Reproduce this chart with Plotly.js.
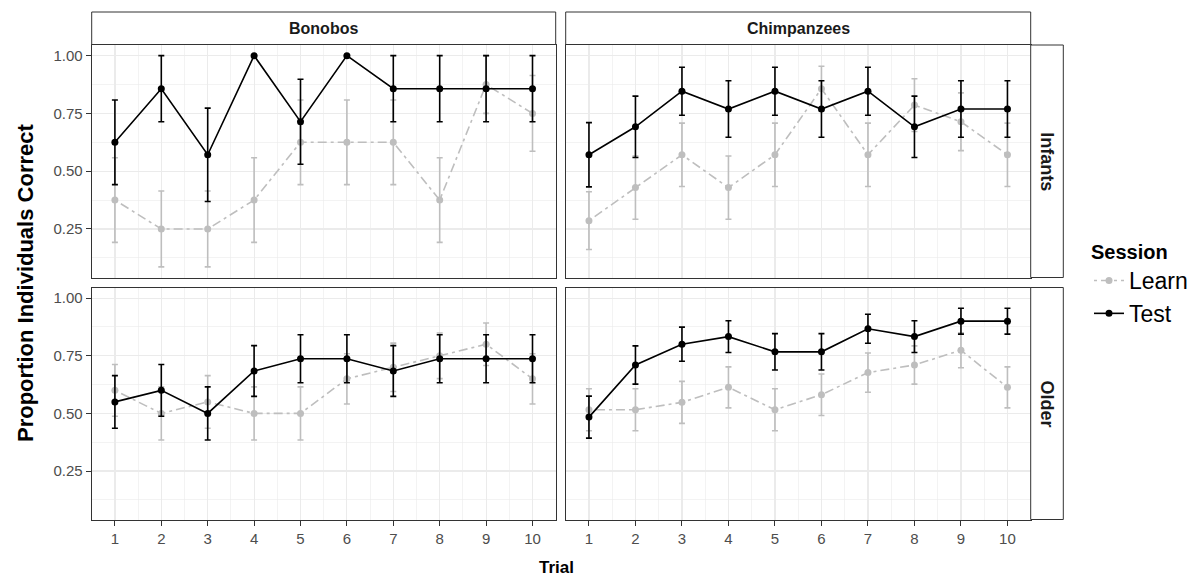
<!DOCTYPE html>
<html>
<head>
<meta charset="utf-8">
<script src="https://cdn.plot.ly/plotly-3.0.1.min.js"></script>
<style>html,body{margin:0;padding:0;background:#fff;}#chart{width:1198px;height:578px;}</style>
</head>
<body>
<div id="chart"></div>
<script>
// ---------- data ----------
const trials = [1, 2, 3, 4, 5, 6, 7, 8, 9, 10];
const species = ["Bonobos", "Chimpanzees"];
const ageGroups = ["Infants", "Older"];
const sessions = ["Learn", "Test"];
const yTickVals = [0.25, 0.50, 0.75, 1.00];
const yTickText = ["0.25", "0.50", "0.75", "1.00"];

// Bonobos – Infants
const bonInfLearn   = [0.375, 0.250, 0.250, 0.375, 0.625, 0.625, 0.625, 0.375, 0.875, 0.750];
const bonInfLearnSE = [0.183, 0.164, 0.164, 0.183, 0.183, 0.183, 0.183, 0.183, 0.125, 0.164];
const bonInfTest    = [0.625, 0.857, 0.571, 1.000, 0.714, 1.000, 0.857, 0.857, 0.857, 0.857];
const bonInfTestSE  = [0.183, 0.143, 0.202, 0.000, 0.184, 0.000, 0.143, 0.143, 0.143, 0.143];
// Chimpanzees – Infants
const chiInfLearn   = [0.286, 0.429, 0.571, 0.429, 0.571, 0.857, 0.571, 0.786, 0.714, 0.571];
const chiInfLearnSE = [0.125, 0.137, 0.137, 0.137, 0.137, 0.097, 0.137, 0.114, 0.125, 0.137];
const chiInfTest    = [0.571, 0.692, 0.846, 0.769, 0.846, 0.769, 0.846, 0.692, 0.769, 0.769];
const chiInfTestSE  = [0.139, 0.133, 0.104, 0.122, 0.104, 0.122, 0.104, 0.133, 0.122, 0.122];
// Bonobos – Older
const bonOldLearn   = [0.600, 0.500, 0.550, 0.500, 0.500, 0.650, 0.700, 0.750, 0.800, 0.650];
const bonOldLearnSE = [0.112, 0.115, 0.114, 0.115, 0.115, 0.109, 0.105, 0.099, 0.092, 0.109];
const bonOldTest    = [0.550, 0.600, 0.500, 0.684, 0.737, 0.737, 0.684, 0.737, 0.737, 0.737];
const bonOldTestSE  = [0.114, 0.112, 0.115, 0.110, 0.104, 0.104, 0.110, 0.104, 0.104, 0.104];
// Chimpanzees – Older
const chiOldLearn   = [0.516, 0.516, 0.548, 0.613, 0.516, 0.581, 0.677, 0.710, 0.774, 0.613];
const chiOldLearnSE = [0.091, 0.091, 0.091, 0.089, 0.091, 0.090, 0.085, 0.083, 0.076, 0.089];
const chiOldTest    = [0.484, 0.710, 0.800, 0.833, 0.767, 0.767, 0.867, 0.833, 0.900, 0.900];
const chiOldTestSE  = [0.091, 0.083, 0.074, 0.069, 0.079, 0.079, 0.063, 0.069, 0.056, 0.056];

// ---------- layout geometry (pixels) ----------
const W = 1198, H = 578;
const px = v => v / W;
const py = v => 1 - v / H;
const colX = [[91.7, 555.7], [565.7, 1030.7]];
const rowY = [[45, 277.5], [287.5, 519.5]];
const stripTop = [12, 44.5];
const stripRight = [1030.7, 1063.3];

const FONT = '"Liberation Sans", Arial, Helvetica, sans-serif';
const GREY = '#BEBEBE';
const BLACK = '#000000';

const panels = [
  { learn: bonInfLearn, learnSE: bonInfLearnSE, test: bonInfTest, testSE: bonInfTestSE, r: 0, c: 0 },
  { learn: chiInfLearn, learnSE: chiInfLearnSE, test: chiInfTest, testSE: chiInfTestSE, r: 0, c: 1 },
  { learn: bonOldLearn, learnSE: bonOldLearnSE, test: bonOldTest, testSE: bonOldTestSE, r: 1, c: 0 },
  { learn: chiOldLearn, learnSE: chiOldLearnSE, test: chiOldTest, testSE: chiOldTestSE, r: 1, c: 1 }
];

const traces = [];
const layout = {
  width: W, height: H,
  margin: { l: 0, r: 0, t: 0, b: 0 },
  paper_bgcolor: '#ffffff',
  plot_bgcolor: '#ffffff',
  font: { family: FONT, color: '#4D4D4D' },
  showlegend: true,
  legend: {
    x: px(1089), y: py(233), xanchor: 'left', yanchor: 'top',
    title: { text: 'Session', font: { family: FONT, size: 20, color: '#000000', weight: 'bold' } },
    font: { family: FONT, size: 23, color: '#000000' },
    bgcolor: 'rgba(0,0,0,0)', tracegroupgap: 0, itemwidth: 30
  },
  shapes: [],
  annotations: []
};

panels.forEach((p, i) => {
  const idx = i === 0 ? '' : String(i + 1);
  const xa = 'x' + idx, ya = 'y' + idx;
  const isBottom = p.r === 1, isLeft = p.c === 0;

  traces.push({
    type: 'scatter', mode: 'lines+markers', name: sessions[0],
    x: trials, y: p.learn, xaxis: xa, yaxis: ya,
    legendgroup: 'learn', showlegend: i === 0,
    line: { color: GREY, width: 1.6, dash: '3px,4px,9px,4px' },
    marker: { color: GREY, size: 7 },
    error_y: { type: 'data', array: p.learnSE, visible: true, color: GREY, thickness: 1.6, width: 3 }
  });
  traces.push({
    type: 'scatter', mode: 'lines+markers', name: sessions[1],
    x: trials, y: p.test, xaxis: xa, yaxis: ya,
    legendgroup: 'test', showlegend: i === 0,
    line: { color: BLACK, width: 1.6 },
    marker: { color: BLACK, size: 7 },
    error_y: { type: 'data', array: p.testSE, visible: true, color: BLACK, thickness: 1.6, width: 3 }
  });

  layout['xaxis' + idx] = {
    domain: [px(colX[p.c][0]), px(colX[p.c][1])],
    anchor: ya, range: [0.5, 10.5], fixedrange: true,
    tickmode: 'array', tickvals: trials, ticktext: trials.map(String),
    showticklabels: isBottom, ticks: isBottom ? 'outside' : '', ticklen: 5, tickwidth: 1, tickcolor: '#333333',
    tickfont: { family: FONT, size: 15, color: '#4D4D4D' },
    showgrid: true, gridcolor: '#EBEBEB', gridwidth: 1.2, zeroline: false,
    minor: { tick0: 0, dtick: 0.5, showgrid: true, gridcolor: '#EBEBEB', gridwidth: 0.6 },
    showline: true, mirror: true, linecolor: '#333333', linewidth: 1
  };
  layout['yaxis' + idx] = {
    domain: [py(rowY[p.r][1]), py(rowY[p.r][0])],
    anchor: xa, range: [0.040, 1.046], fixedrange: true,
    tickmode: 'array', tickvals: yTickVals, ticktext: yTickText,
    showticklabels: isLeft, ticks: isLeft ? 'outside' : '', ticklen: 5, tickwidth: 1, tickcolor: '#333333',
    tickfont: { family: FONT, size: 15, color: '#4D4D4D' },
    showgrid: true, gridcolor: '#EBEBEB', gridwidth: 1.2, zeroline: false,
    minor: { tick0: 0, dtick: 0.125, showgrid: true, gridcolor: '#EBEBEB', gridwidth: 0.6 },
    showline: true, mirror: true, linecolor: '#333333', linewidth: 1
  };
});

// top strips
species.forEach((s, c) => {
  layout.shapes.push({
    type: 'rect', xref: 'paper', yref: 'paper',
    x0: px(colX[c][0]), x1: px(colX[c][1]), y0: py(stripTop[1]), y1: py(stripTop[0]),
    fillcolor: '#ffffff', line: { color: '#333333', width: 1 }
  });
  layout.annotations.push({
    xref: 'paper', yref: 'paper', x: px((colX[c][0] + colX[c][1]) / 2), y: py((stripTop[0] + stripTop[1]) / 2),
    xanchor: 'center', yanchor: 'middle', showarrow: false, text: s,
    font: { family: FONT, size: 16, color: '#1A1A1A', weight: 'bold' }
  });
});
// right strips
ageGroups.forEach((g, r) => {
  layout.shapes.push({
    type: 'rect', xref: 'paper', yref: 'paper',
    x0: px(stripRight[0]), x1: px(stripRight[1]), y0: py(rowY[r][1]), y1: py(rowY[r][0]),
    fillcolor: '#ffffff', line: { color: '#333333', width: 1 }
  });
  layout.annotations.push({
    xref: 'paper', yref: 'paper', x: px((stripRight[0] + stripRight[1]) / 2), y: py((rowY[r][0] + rowY[r][1]) / 2),
    xanchor: 'center', yanchor: 'middle', showarrow: false, text: g, textangle: 90,
    font: { family: FONT, size: 18, color: '#1A1A1A', weight: 'bold' }
  });
});
// axis titles
layout.annotations.push({
  xref: 'paper', yref: 'paper', x: px(556), y: py(567), xanchor: 'center', yanchor: 'middle',
  showarrow: false, text: 'Trial', font: { family: FONT, size: 17, color: '#000000', weight: 'bold' }
});
layout.annotations.push({
  xref: 'paper', yref: 'paper', x: px(25), y: py(283), xanchor: 'center', yanchor: 'middle',
  showarrow: false, text: 'Proportion Individuals Correct', textangle: -90,
  font: { family: FONT, size: 22, color: '#000000', weight: 'bold' }
});

Plotly.newPlot('chart', traces, layout, { displayModeBar: false, staticPlot: true });
</script>
</body>
</html>
